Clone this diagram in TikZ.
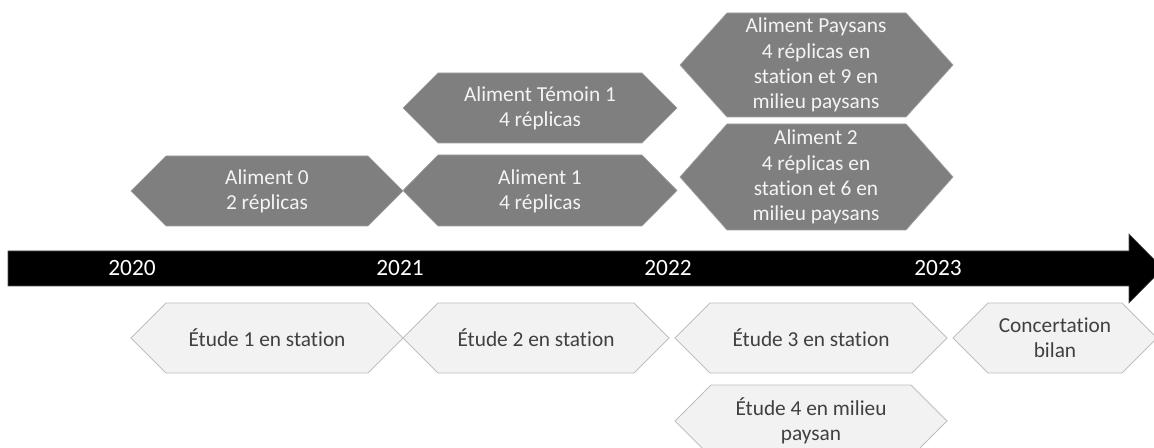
\documentclass[tikz,border=0pt]{standalone}
\usepackage{fontspec}
\setmainfont{Carlito}[Ligatures={NoCommon}, Contextuals={NoAlternate}]
\definecolor{darkfill}{HTML}{7F7F7F}
\definecolor{darkline}{HTML}{A0A0A0}
\definecolor{lightfill}{HTML}{F2F2F2}
\definecolor{lightline}{HTML}{BFBFBF}
\definecolor{lighttext}{HTML}{404040}
\definecolor{darktext}{HTML}{F4F4F4}
\tikzset{
  darkhex/.style={fill=darkfill, draw=darkline, line width=0.5pt},
  lighthex/.style={fill=lightfill, draw=lightline, line width=0.6pt},
  darklabel/.style={text=darktext, align=center, inner sep=0pt, font=\fontsize{16}{19}\selectfont},
  lightlabel/.style={text=lighttext, align=center, inner sep=0pt, font=\fontsize{16}{19}\selectfont},
  yearlabel/.style={text=white, inner sep=0pt, font=\fontsize{17.5}{20}\selectfont},
  timebar/.style={fill=black, draw=black!70, line width=0.4pt}
}
\newcommand{\hexpath}[6]{% style, xl, xr, yt, yb, indent
  \path[#1] (#2,{(#4+#5)/2}) -- ({#2+#6},#4) -- ({#3-#6},#4) -- (#3,{(#4+#5)/2}) -- ({#3-#6},#5) -- ({#2+#6},#5) -- cycle;}
\begin{document}
\begin{tikzpicture}[x=0.75pt, y=-0.75pt]
\useasboundingbox (0,0) rectangle (1154,448);
\clip (0,0) rectangle (1154,448);
% dark boxes
\hexpath{darkhex}{131}{403}{156}{226}{35}
\hexpath{darkhex}{403}{677}{73}{143}{35}
\hexpath{darkhex}{403}{677}{155}{226}{35}
\hexpath{darkhex}{680}{953}{13}{117}{47}
\hexpath{darkhex}{680}{953}{124}{230}{47}
\node[darklabel] (a0) at (267,191) {Aliment 0\\2 réplicas};
\node[darklabel] (at1) at (540,108) {Aliment Témoin 1\\4 réplicas};
\node[darklabel] (a1) at (540,191) {Aliment 1\\4 réplicas};
\node[darklabel] (ap) at (816,65) {Aliment Paysans\\4 réplicas en\\station et 9 en\\milieu paysans};
\node[darklabel] (a2) at (816,177) {Aliment 2\\4 réplicas en\\station et 6 en\\milieu paysans};
% time arrow
\path[timebar] (8,251) -- (1129,251) -- (1129,234) -- (1163,268.5) -- (1129,303) -- (1129,286) -- (8,286) -- cycle;
\node[yearlabel] (y2020) at (132,268.5) {2020};
\node[yearlabel] (y2021) at (400,268.5) {2021};
\node[yearlabel] (y2022) at (668,268.5) {2022};
\node[yearlabel] (y2023) at (938,268.5) {2023};
% light boxes
\hexpath{lighthex}{131}{403}{303}{373}{35}
\hexpath{lighthex}{403}{669}{303}{373}{35}
\hexpath{lighthex}{675}{947}{303}{373}{35}
\hexpath{lighthex}{675}{947}{385}{457}{36}
\hexpath{lighthex}{953}{1157}{303}{373}{35}
\node[lightlabel] (e1) at (267,338) {Étude 1 en station};
\node[lightlabel] (e2) at (536,338) {Étude 2 en station};
\node[lightlabel] (e3) at (811,338) {Étude 3 en station};
\node[lightlabel] (e4) at (811,421) {Étude 4 en milieu\\paysan};
\node[lightlabel] (cb) at (1055,338) {Concertation\\bilan};
\end{tikzpicture}
\end{document}
